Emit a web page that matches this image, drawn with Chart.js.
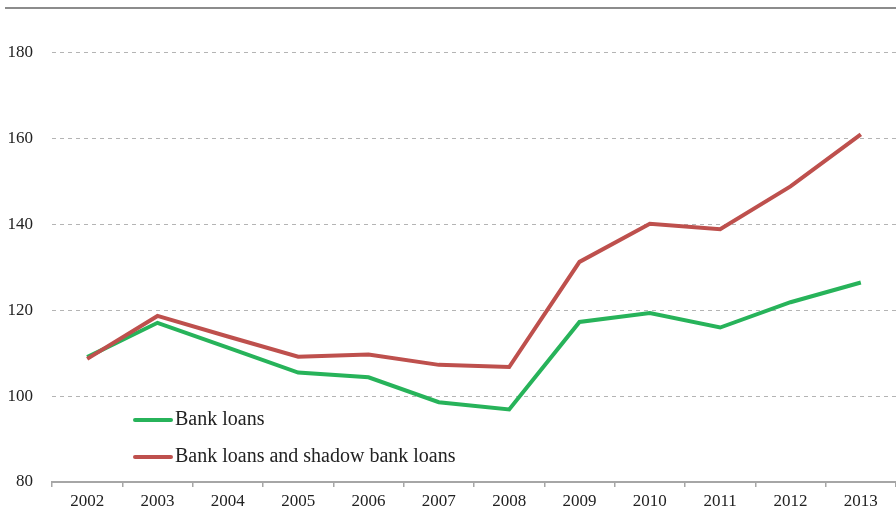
<!DOCTYPE html>
<html>
<head>
<meta charset="utf-8">
<script src="https://cdn.jsdelivr.net/npm/chart.js@4/dist/chart.umd.min.js"></script>
<style>
  html, body { margin: 0; padding: 0; background: #fff; }
  #wrap { width: 896px; height: 514px; }
</style>
</head>
<body>
<div id="wrap"><canvas id="loanChart" width="896" height="514"></canvas></div>
<script>
// chart data
const years = ['2002', '2003', '2004', '2005', '2006', '2007', '2008', '2009', '2010', '2011', '2012', '2013'];
const bankLoans = [109.1, 117.1, 111.3, 105.5, 104.4, 98.6, 96.9, 117.3, 119.4, 116.0, 121.9, 126.5];
const shadowLoans = [108.7, 118.7, 113.9, 109.2, 109.7, 107.3, 106.8, 131.3, 140.2, 138.9, 148.9, 161.0];
const yMin = 80;
const yMax = 190;
const yStep = 20;

const FONT = "'Liberation Serif', 'DejaVu Serif', serif";
const GREEN = '#27b35a';
const RED = '#be504d';

// top rule + in-chart legend
const decoPlugin = {
    id: 'deco',
    afterDraw(chart) {
        const ctx = chart.ctx;
        ctx.save();
        ctx.strokeStyle = '#8c8c8c';
        ctx.lineWidth = 2;
        ctx.beginPath();
        ctx.moveTo(5, 8);
        ctx.lineTo(chart.width, 8);
        ctx.stroke();

        const rows = [420, 457];
        ctx.font = '20px ' + FONT;
        ctx.textBaseline = 'middle';
        ctx.fillStyle = '#222';
        chart.data.datasets.forEach((ds, i) => {
            const y = rows[i];
            ctx.strokeStyle = ds.borderColor;
            ctx.lineWidth = 4;
            ctx.lineCap = 'round';
            ctx.beginPath();
            ctx.moveTo(135, y);
            ctx.lineTo(171, y);
            ctx.stroke();
            ctx.fillText(ds.label, 175, y);
        });
        ctx.restore();
    }
};

new Chart(document.getElementById('loanChart'), {
    type: 'line',
    data: {
        labels: years,
        datasets: [
            {
                label: 'Bank loans',
                data: bankLoans,
                borderColor: GREEN,
                backgroundColor: GREEN,
                borderWidth: 4,
                pointRadius: 0,
                tension: 0,
                order: 1
            },
            {
                label: 'Bank loans and shadow bank loans',
                data: shadowLoans,
                borderColor: RED,
                backgroundColor: RED,
                borderWidth: 4,
                pointRadius: 0,
                tension: 0,
                order: 0
            }
        ]
    },
    options: {
        responsive: false,
        animation: false,
        layout: { padding: { top: 10, right: 0, left: 0, bottom: 0 } },
        plugins: {
            legend: { display: false },
            tooltip: { enabled: false }
        },
        scales: {
            x: {
                offset: true,
                grid: {
                    offset: true,
                    drawOnChartArea: false,
                    drawTicks: true,
                    tickLength: 5,
                    color: '#a6a6a6',
                    lineWidth: 1.5
                },
                border: { display: true, color: '#a6a6a6', width: 2 },
                ticks: {
                    color: '#222',
                    font: { family: FONT, size: 17 },
                    padding: 4,
                    maxRotation: 0
                },
                afterFit(scale) { scale.height = 32; }
            },
            y: {
                min: yMin,
                max: yMax,
                ticks: {
                    stepSize: yStep,
                    color: '#222',
                    font: { family: FONT, size: 17 },
                    padding: 19
                },
                afterBuildTicks(scale) {
                    scale.ticks = scale.ticks.filter(t => t.value <= 180);
                },
                afterFit(scale) {
                    scale.width = 52;
                    scale.paddingTop = 0;
                    scale.paddingBottom = 0;
                },
                grid: {
                    drawTicks: false,
                    color: ctx => ctx.tick && ctx.tick.value === yMin ? 'rgba(0,0,0,0)' : '#b4b4b4',
                    lineWidth: 1
                },
                border: { display: false, dash: [4, 4] }
            }
        }
    },
    plugins: [decoPlugin]
});
</script>
</body>
</html>
